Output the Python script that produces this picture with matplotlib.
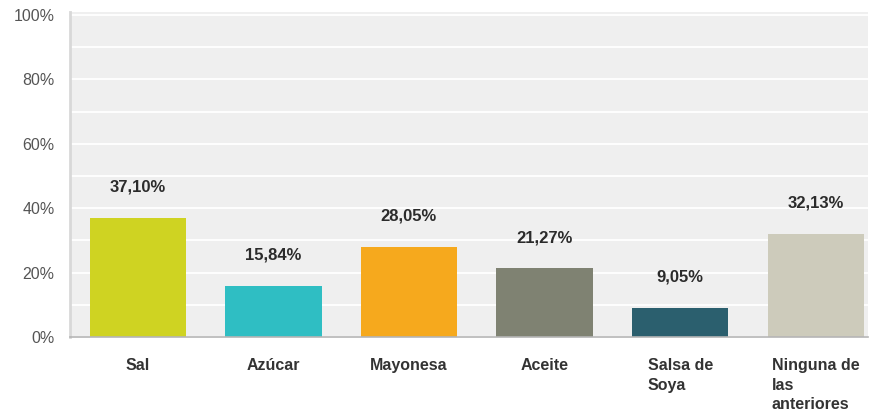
import matplotlib.pyplot as plt
import matplotlib.transforms as mtransforms
import numpy as np

# respuestas de la encuesta (porcentaje)
categorias = ["Sal", "Azúcar", "Mayonesa", "Aceite", "Salsa de\nSoya", "Ninguna de\nlas\nanteriores"]
valores = [37.10, 15.84, 28.05, 21.27, 9.05, 32.13]
etiquetas = ["37,10%", "15,84%", "28,05%", "21,27%", "9,05%", "32,13%"]
colores = ["#cfd322", "#2fbec3", "#f6a91d", "#7f8272", "#2b5f6e", "#cdcbbb"]

plt.rcParams['font.family'] = ['Liberation Sans', 'DejaVu Sans']

fig = plt.figure(figsize=(8.72, 4.17), dpi=100)
ax = fig.add_axes([70/872, 80/417, 798/872, 325/417])
ax.set_facecolor("#efefef")

x = np.arange(len(categorias))
ax.bar(x, valores, width=0.71, color=colores, zorder=3)

for xi, v, txt in zip(x, valores, etiquetas):
    ax.annotate(txt, (xi, v), xytext=(0, 22), textcoords="offset points",
                ha="center", va="center", fontsize=12, fontweight="bold", color="#2b2b2b")

ax.set_xlim(-0.5, 5.385)
ax.set_ylim(0, 100.9)
ax.set_yticks(np.arange(0, 101, 20))
ax.set_yticklabels([f"{t}%" for t in range(0, 101, 20)], fontsize=11.5, color="#555555")
ax.set_yticks(np.arange(10, 100, 20), minor=True)
ax.grid(axis="y", which="both", color="white", linewidth=1.3, zorder=0)
ax.grid(axis="x", visible=False)

# etiquetas del eje y un poco por debajo de su linea
bajar = mtransforms.ScaledTranslation(0, -4/72, fig.dpi_scale_trans)
for lab in ax.get_yticklabels():
    lab.set_transform(lab.get_transform() + bajar)

ax.set_xticks(x)
ax.set_xticklabels(categorias, fontsize=11.5, fontweight="bold", color="#333333",
                   va="top", multialignment="left", linespacing=1.4)
ax.tick_params(axis="both", which="both", length=0)
ax.tick_params(axis="x", pad=15)
ax.tick_params(axis="y", pad=11)

for s in ["top", "right"]:
    ax.spines[s].set_visible(False)
ax.spines["left"].set_color("#d8d8d8")
ax.spines["left"].set_linewidth(2)
ax.spines["bottom"].set_color("#b5b5b5")
ax.spines["bottom"].set_linewidth(1.2)
ax.spines["bottom"].set_zorder(4)

fig.savefig("out.png", dpi=100, facecolor="white")
